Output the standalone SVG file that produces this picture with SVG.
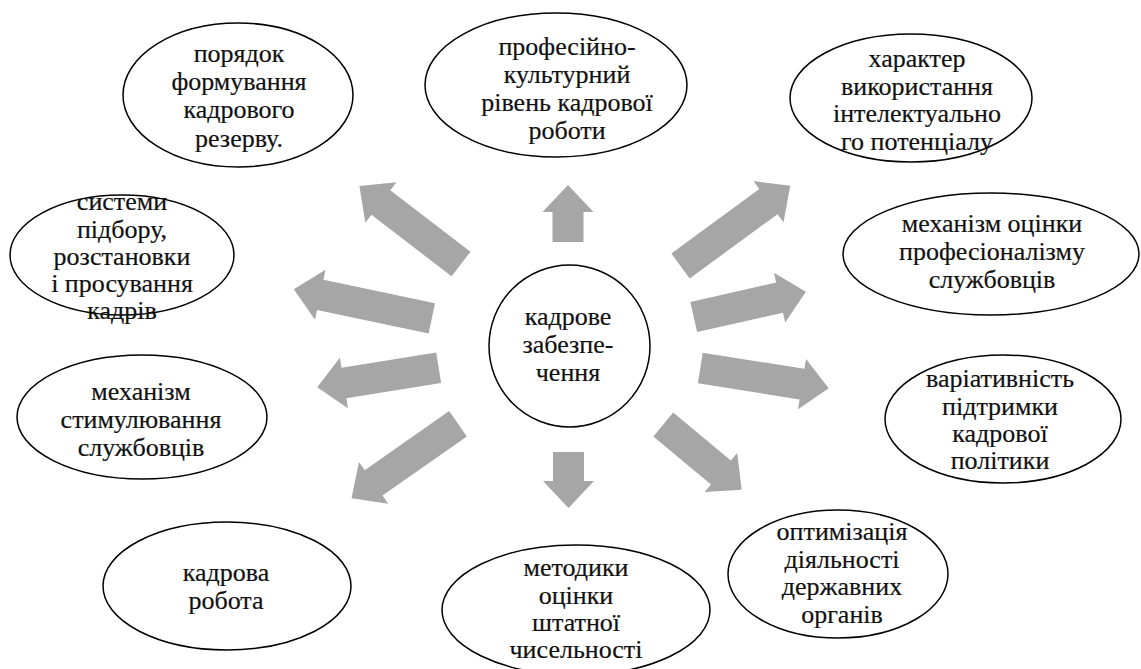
<svg xmlns="http://www.w3.org/2000/svg" width="1141" height="669" viewBox="0 0 1141 669">
<style>
.n ellipse{fill:#fff;stroke:#000;stroke-width:1.5}
.n text{font-family:'Liberation Serif','Times New Roman',serif;font-size:26px;fill:#111;stroke:#111;stroke-width:0.2;text-anchor:middle}
.a polygon{fill:#a6a6a6}
</style>
<rect width="1141" height="669" fill="#fff"/>
<g class="a" id="connectors">
<polygon transform="translate(568,242) rotate(-90)" points="0,-15.5 30,-15.5 30,-25.5 57,0 30,25.5 30,15.5 0,15.5"/>
<polygon transform="translate(568.5,452) rotate(90)" points="0,-15.5 29,-15.5 29,-25.5 56,0 29,25.5 29,15.5 0,15.5"/>
<polygon transform="translate(461,264) rotate(217.5)" points="0,-15.5 101,-15.5 101,-25.5 128,0 101,25.5 101,15.5 0,15.5"/>
<polygon transform="translate(680.5,266) rotate(-36.2)" points="0,-15.5 109,-15.5 109,-25.5 136,0 109,25.5 109,15.5 0,15.5"/>
<polygon transform="translate(431.8,318.3) rotate(191.9)" points="0,-15.5 114,-15.5 114,-25.5 141,0 114,25.5 114,15.5 0,15.5"/>
<polygon transform="translate(693.7,317) rotate(-12.7)" points="0,-15.5 88,-15.5 88,-25.5 115,0 88,25.5 88,15.5 0,15.5"/>
<polygon transform="translate(438.7,367.8) rotate(170.9)" points="0,-15.5 96,-15.5 96,-25.5 123,0 96,25.5 96,15.5 0,15.5"/>
<polygon transform="translate(700.3,368) rotate(9)" points="0,-15.5 103,-15.5 103,-25.5 130,0 103,25.5 103,15.5 0,15.5"/>
<polygon transform="translate(458,423.8) rotate(145)" points="0,-15.5 103,-15.5 103,-25.5 130,0 103,25.5 103,15.5 0,15.5"/>
<polygon transform="translate(663.3,424.5) rotate(39.8)" points="0,-15.5 75,-15.5 75,-25.5 102,0 75,25.5 75,15.5 0,15.5"/>
</g>
<g class="n" id="center">
<ellipse cx="569.5" cy="346" rx="80.5" ry="81"/>
<text x="568" y="325">кадрове</text>
<text x="568" y="353">забезпе-</text>
<text x="568" y="381">чення</text>
</g>
<g class="n" id="n-poriadok">
<ellipse cx="238" cy="95" rx="115" ry="72"/>
<text x="239" y="62">порядок</text>
<text x="239" y="90">формування</text>
<text x="239" y="118">кадрового</text>
<text x="239" y="147">резерву.</text>
</g>
<g class="n" id="n-profesiino">
<ellipse cx="556" cy="85" rx="131" ry="72"/>
<text x="567" y="55">професійно-</text>
<text x="567" y="83">культурний</text>
<text x="567" y="111">рівень кадрової</text>
<text x="567" y="139">роботи</text>
</g>
<g class="n" id="n-kharakter">
<ellipse cx="911" cy="98" rx="121" ry="64"/>
<text x="917" y="67">характер</text>
<text x="917" y="94.5">використання</text>
<text x="917" y="122">інтелектуально</text>
<text x="917" y="149.5">го потенціалу</text>
</g>
<g class="n" id="n-mekhanizm-otsinky">
<ellipse cx="991" cy="254" rx="148" ry="61"/>
<text x="992" y="232">механізм оцінки</text>
<text x="992" y="260">професіоналізму</text>
<text x="992" y="287.5">службовців</text>
</g>
<g class="n" id="n-systemy">
<ellipse cx="122" cy="255" rx="112" ry="60"/>
<text x="122" y="210">системи</text>
<text x="122" y="237.5">підбору,</text>
<text x="122" y="265">розстановки</text>
<text x="122" y="292">і просування</text>
<text x="122" y="319">кадрів</text>
</g>
<g class="n" id="n-stymuliuvannia">
<ellipse cx="142" cy="417" rx="125" ry="62"/>
<text x="141" y="400">механізм</text>
<text x="141" y="428">стимулювання</text>
<text x="141" y="455.5">службовців</text>
</g>
<g class="n" id="n-variatyvnist">
<ellipse cx="1003" cy="419" rx="118" ry="64"/>
<text x="1000" y="387">варіативність</text>
<text x="1000" y="414.5">підтримки</text>
<text x="1000" y="442">кадрової</text>
<text x="1000" y="469">політики</text>
</g>
<g class="n" id="n-kadrova-robota">
<ellipse cx="227" cy="586" rx="124" ry="64"/>
<text x="226" y="581">кадрова</text>
<text x="226" y="609">робота</text>
</g>
<g class="n" id="n-metodyky">
<ellipse cx="576" cy="610" rx="134" ry="65"/>
<text x="576" y="576">методики</text>
<text x="576" y="603.5">оцінки</text>
<text x="576" y="631">штатної</text>
<text x="576" y="658">чисельності</text>
</g>
<g class="n" id="n-optymizatsiia">
<ellipse cx="838" cy="574" rx="110" ry="64"/>
<text x="842" y="540">оптимізація</text>
<text x="842" y="567.5">діяльності</text>
<text x="842" y="595">державних</text>
<text x="842" y="622.5">органів</text>
</g>
</svg>
